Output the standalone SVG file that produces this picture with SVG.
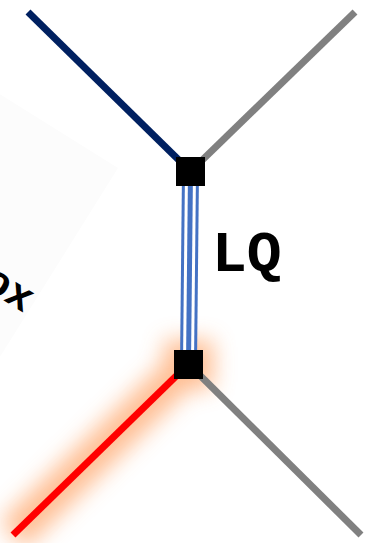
<svg xmlns="http://www.w3.org/2000/svg" width="365" height="543" viewBox="0 0 365 543">
<defs>
<style>
.leg{fill:none;stroke-width:7;stroke-linecap:butt}
.vtx{fill:#000}
.lbl{font-family:"Courier New","Liberation Mono",monospace;font-weight:bold;fill:#000}
</style>
<filter id="glow" x="-50%" y="-50%" width="200%" height="200%">
<feGaussianBlur stdDeviation="11"/>
</filter>
</defs>
<g id="bgLabel" transform="translate(118,168) rotate(32)">
<rect x="-300" y="0" width="300" height="420" fill="#fcfcfc"/>
<text class="lbl" x="-3" y="173" font-size="42" text-anchor="end">ox</text>
</g>
<g id="glowLayer" filter="url(#glow)" opacity="0.8">
<line x1="188.5" y1="364" x2="13" y2="535" stroke="#ffae78" stroke-width="36"/>
<rect x="164" y="340" width="49" height="49" fill="#ffae78"/>
</g>
<g id="connectors">
<line class="leg" x1="28" y1="12" x2="190.5" y2="171.5" stroke="#002060"/>
<line class="leg" x1="355" y1="12" x2="190.5" y2="171.5" stroke="#808080"/>
<line x1="190.5" y1="171.5" x2="188.5" y2="364" stroke="#4472c4" stroke-width="17"/>
<line x1="190.5" y1="171.5" x2="188.5" y2="364" stroke="#ffffff" stroke-width="11"/>
<line x1="190.5" y1="171.5" x2="188.5" y2="364" stroke="#4472c4" stroke-width="5"/>
<line class="leg" x1="188.5" y1="364" x2="13" y2="535" stroke="#ff0000"/>
<line class="leg" x1="188.5" y1="364" x2="361" y2="535" stroke="#808080"/>
</g>
<g id="vertexTop"><rect class="vtx" x="176" y="157" width="29" height="29"/></g>
<g id="vertexBottom"><rect class="vtx" x="174" y="350" width="29" height="29"/></g>
<g id="labelLQ"><text class="lbl" x="212" y="271" font-size="58">LQ</text></g>
</svg>
